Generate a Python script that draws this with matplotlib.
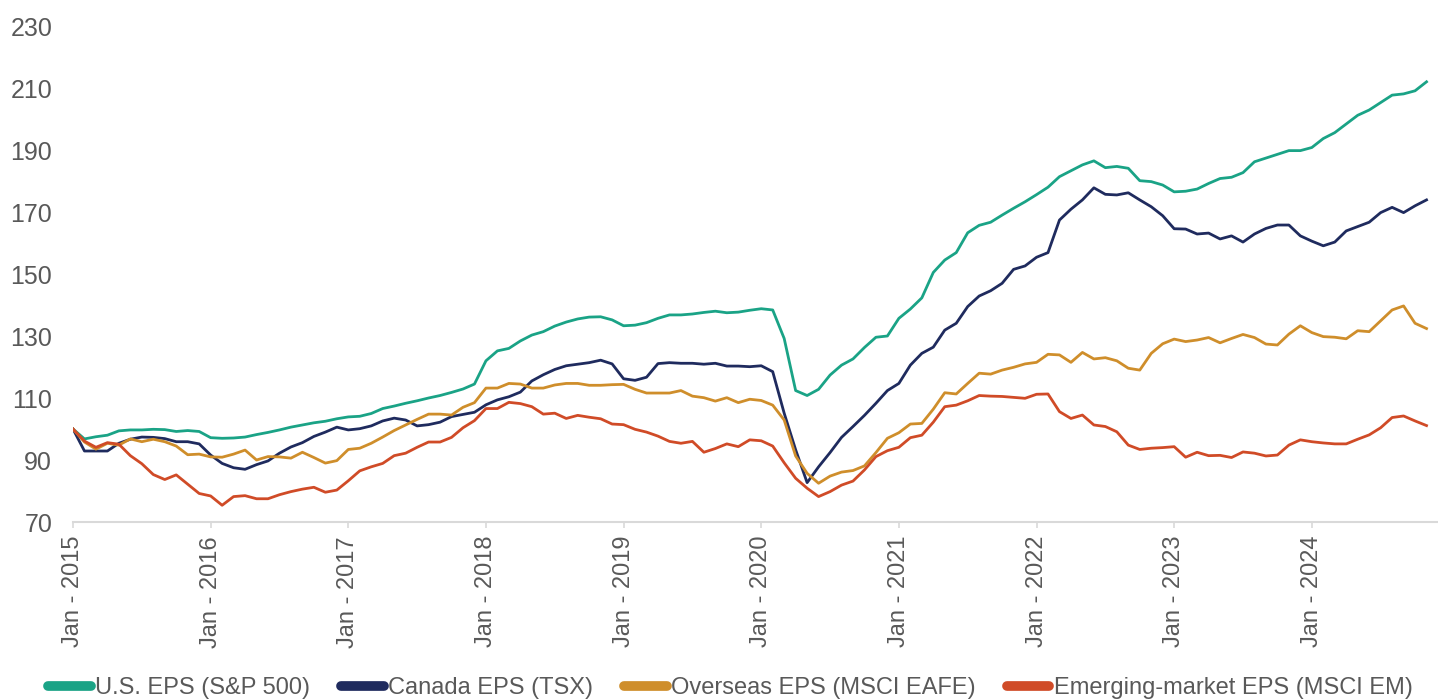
import matplotlib
matplotlib.use("Agg")
import matplotlib.pyplot as plt
import numpy as np

# monthly index values, Jan 2015 = 100, Jan 2015 .. Nov 2024
us_eps = [
    100.0, 96.8, 97.5, 98.0, 99.4, 99.7, 99.7, 99.9, 99.8, 99.2, 99.5, 99.2,
    97.2, 97.0, 97.1, 97.4, 98.2, 98.9, 99.7, 100.6, 101.3, 102.0, 102.5, 103.3,
    103.9, 104.1, 105.0, 106.6, 107.4, 108.3, 109.1, 110.0, 110.8, 111.8, 112.9, 114.5,
    122.0, 125.2, 126.0, 128.4, 130.3, 131.4, 133.2, 134.5, 135.5, 136.1, 136.2, 135.2,
    133.3, 133.5, 134.3, 135.7, 136.8, 136.8, 137.1, 137.6, 138.0, 137.5, 137.7, 138.3,
    138.8, 138.4, 129.2, 112.4, 110.8, 112.8, 117.4, 120.6, 122.6, 126.3, 129.6, 130.0,
    135.7, 138.7, 142.3, 150.5, 154.5, 156.9, 163.3, 165.7, 166.7, 169.0, 171.2, 173.3,
    175.6, 178.0, 181.4, 183.3, 185.2, 186.5, 184.3, 184.7, 184.1, 180.1, 179.8, 178.7,
    176.5, 176.7, 177.4, 179.2, 180.8, 181.2, 182.7, 186.2, 187.4, 188.6, 189.8, 189.8,
    190.8, 193.7, 195.6, 198.4, 201.2, 202.9, 205.3, 207.7, 208.1, 209.1, 212.0,
]
canada_eps = [
    100.0, 92.9, 92.9, 92.9, 95.4, 96.7, 97.4, 97.3, 96.9, 95.9, 95.9, 95.2,
    91.6, 88.9, 87.5, 87.0, 88.5, 89.7, 92.2, 94.2, 95.6, 97.6, 99.0, 100.6,
    99.7, 100.1, 101.0, 102.6, 103.5, 102.9, 101.0, 101.4, 102.2, 104.0, 104.7, 105.4,
    107.8, 109.4, 110.4, 111.9, 115.5, 117.5, 119.2, 120.4, 120.9, 121.4, 122.2, 121.0,
    116.2, 115.7, 116.7, 121.1, 121.4, 121.2, 121.2, 120.9, 121.2, 120.3, 120.3, 120.1,
    120.4, 118.5, 105.1, 93.3, 82.7, 87.8, 92.4, 97.3, 100.8, 104.4, 108.3, 112.4,
    114.7, 120.6, 124.4, 126.4, 131.9, 134.1, 139.5, 142.9, 144.6, 147.0, 151.5, 152.6,
    155.4, 156.9, 167.4, 170.9, 173.9, 177.8, 175.7, 175.5, 176.2, 173.9, 171.7, 168.8,
    164.6, 164.5, 162.9, 163.2, 161.3, 162.3, 160.3, 162.9, 164.7, 165.8, 165.8, 162.3,
    160.6, 159.1, 160.3, 163.9, 165.3, 166.7, 169.8, 171.5, 169.8, 172.0, 173.9,
]
overseas_eps = [
    100.0, 95.8, 93.5, 95.4, 94.8, 96.8, 95.9, 96.7, 95.9, 94.5, 91.7, 91.9,
    91.0, 90.9, 91.9, 93.2, 90.0, 91.1, 91.0, 90.6, 92.5, 90.8, 89.0, 89.8,
    93.4, 93.8, 95.4, 97.4, 99.5, 101.3, 103.1, 104.8, 104.8, 104.5, 107.0, 108.5,
    113.2, 113.2, 114.7, 114.5, 113.2, 113.2, 114.2, 114.7, 114.7, 114.1, 114.1, 114.3,
    114.4, 112.8, 111.6, 111.6, 111.6, 112.4, 110.6, 110.1, 109.0, 110.1, 108.5, 109.6,
    109.2, 107.7, 102.9, 91.3, 85.7, 82.5, 84.8, 86.1, 86.6, 88.1, 92.4, 97.0,
    98.8, 101.6, 101.8, 106.4, 111.7, 111.3, 114.7, 118.0, 117.7, 119.0, 119.9, 121.0,
    121.5, 124.1, 123.9, 121.5, 124.7, 122.6, 123.0, 122.0, 119.6, 119.0, 124.4, 127.5,
    129.0, 128.2, 128.7, 129.5, 127.8, 129.2, 130.5, 129.5, 127.4, 127.1, 130.6, 133.3,
    131.1, 129.8, 129.6, 129.1, 131.7, 131.4, 134.9, 138.4, 139.7, 134.1, 132.4,
]
em_eps = [
    100.0, 96.1, 94.1, 95.6, 95.1, 91.4, 88.8, 85.3, 83.7, 85.2, 82.2, 79.2,
    78.4, 75.4, 78.2, 78.5, 77.5, 77.5, 78.8, 79.8, 80.6, 81.2, 79.6, 80.3,
    83.3, 86.5, 87.8, 88.9, 91.4, 92.2, 94.1, 95.8, 95.8, 97.3, 100.4, 102.7,
    106.6, 106.6, 108.6, 108.2, 107.2, 104.8, 105.1, 103.4, 104.4, 103.8, 103.3, 101.6,
    101.4, 99.9, 99.0, 97.7, 96.0, 95.4, 96.0, 92.5, 93.7, 95.2, 94.3, 96.5,
    96.2, 94.5, 89.1, 84.1, 80.9, 78.2, 79.8, 81.9, 83.2, 86.8, 91.1, 93.0,
    94.1, 97.2, 98.0, 102.2, 107.2, 107.7, 109.1, 110.8, 110.6, 110.5, 110.2, 109.9,
    111.2, 111.3, 105.6, 103.4, 104.5, 101.3, 100.8, 99.1, 94.8, 93.4, 93.8, 94.0,
    94.3, 90.9, 92.5, 91.4, 91.5, 90.8, 92.6, 92.2, 91.3, 91.6, 94.8, 96.5,
    95.9, 95.5, 95.2, 95.2, 96.7, 98.1, 100.4, 103.7, 104.2, 102.6, 101.1,
]

years = list(range(2015, 2025))
tick_labels = [f"Jan - {y}" for y in years]
y_ticks = list(range(70, 231, 20))

series = [
    ("U.S. EPS (S&P 500)", us_eps, "#1aa386"),
    ("Canada EPS (TSX)", canada_eps, "#1f2b5e"),
    ("Overseas EPS (MSCI EAFE)", overseas_eps, "#cf8e2b"),
    ("Emerging-market EPS (MSCI EM)", em_eps, "#d04b27"),
]

plt.rcParams["font.family"] = ["Liberation Sans", "DejaVu Sans"]
text_color = "#595959"

fig = plt.figure(figsize=(14.38, 7.0), dpi=100)
ax = fig.add_axes([73 / 1438, 1 - 522 / 700, 1 - 73 / 1438, (522 - 26) / 700])

for label, values, color in series:
    ax.plot(np.arange(len(values)), values, color=color, linewidth=2.0, label=label)

ax.set_xlim(0, 119)
ax.set_ylim(70, 230)
ax.set_yticks(y_ticks)
ax.set_xticks([12 * i for i in range(len(years))])
ax.set_xticklabels(tick_labels, rotation=90, va="top", ha="center")

for side in ("top", "right", "left"):
    ax.spines[side].set_visible(False)
ax.spines["bottom"].set_color("#d9d9d9")
ax.spines["bottom"].set_linewidth(1.5)
ax.tick_params(axis="y", length=0, pad=15, labelsize=18, labelcolor=text_color)
ax.tick_params(axis="x", length=4, width=1.2, color="#d9d9d9", pad=6,
               labelsize=17, labelcolor=text_color)

handles, labels = ax.get_legend_handles_labels()
leg = fig.legend(handles, labels, loc="center", bbox_to_anchor=(0.508, 0.017),
                 ncol=4, frameon=False, fontsize=17, handlelength=1.8,
                 handletextpad=0.2, columnspacing=1.3, labelcolor=text_color)
for line in leg.get_lines():
    line.set_linewidth(7)
    line.set_solid_capstyle("round")

fig.savefig("out.png", dpi=100, facecolor="white")
